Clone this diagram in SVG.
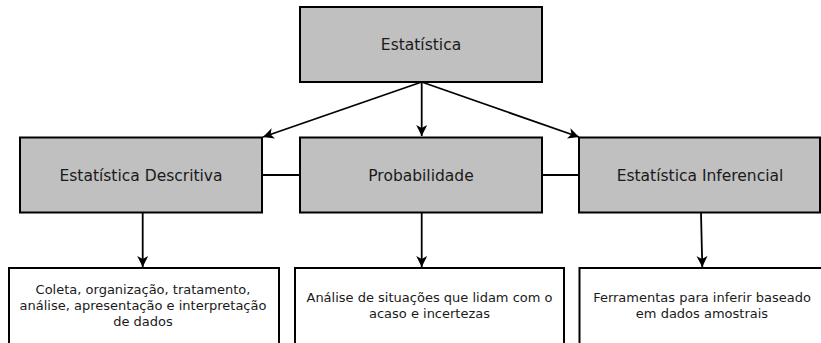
<svg xmlns="http://www.w3.org/2000/svg" width="821" height="343" viewBox="0 0 821 343">
<defs>
<marker id="arr" markerUnits="userSpaceOnUse" markerWidth="12" markerHeight="12" refX="11" refY="6" orient="auto">
<path d="M0,0.5 L11,6 L0,11.5 L3,6 z" fill="#000"/>
</marker>
<style>
.main{fill:#c0c0c0;stroke:#000;stroke-width:2}
.desc{fill:#fff;stroke:#000;stroke-width:2}
.t1{font-family:"DejaVu Sans",sans-serif;font-size:15.5px;fill:#1a1a1a;text-anchor:middle}
.t2{font-family:"DejaVu Sans",sans-serif;font-size:13px;fill:#1a1a1a;text-anchor:middle}
.c{stroke:#000;stroke-width:1.8;fill:none}
</style>
</defs>
<rect width="821" height="343" fill="#fff"/>
<g id="connectors">
<line class="c" x1="421.7" y1="82" x2="263" y2="137" marker-end="url(#arr)"/>
<line class="c" x1="421.7" y1="82" x2="421.7" y2="136" marker-end="url(#arr)"/>
<line class="c" x1="421.7" y1="82" x2="579" y2="137" marker-end="url(#arr)"/>
<line class="c" x1="262" y1="175" x2="300" y2="175"/>
<line class="c" x1="542" y1="175" x2="579" y2="175"/>
<line class="c" x1="142.7" y1="213" x2="142.7" y2="267" marker-end="url(#arr)"/>
<line class="c" x1="421.7" y1="213" x2="421.7" y2="267" marker-end="url(#arr)"/>
<line class="c" x1="701" y1="213" x2="702.3" y2="267" marker-end="url(#arr)"/>
</g>
<g id="estatistica">
<rect class="main" x="300" y="7" width="242" height="75"/>
<text class="t1" x="421" y="49.5">Estatística</text>
</g>
<g id="descritiva">
<rect class="main" x="20" y="137.5" width="242" height="75"/>
<text class="t1" x="141" y="180.5">Estatística Descritiva</text>
</g>
<g id="probabilidade">
<rect class="main" x="300" y="137.5" width="242" height="75"/>
<text class="t1" x="421" y="180.5">Probabilidade</text>
</g>
<g id="inferencial">
<rect class="main" x="579" y="137.5" width="241" height="75"/>
<text class="t1" x="700" y="180.5">Estatística Inferencial</text>
</g>
<g id="desc-descritiva">
<rect class="desc" x="9" y="268" width="270" height="90"/>
<text class="t2" x="143" y="294">Coleta, organização, tratamento,</text>
<text class="t2" x="143" y="310">análise, apresentação e interpretação</text>
<text class="t2" x="143" y="326">de dados</text>
</g>
<g id="desc-probabilidade">
<rect class="desc" x="295" y="268" width="269" height="90"/>
<text class="t2" x="429.5" y="302">Análise de situações que lidam com o</text>
<text class="t2" x="429.5" y="318">acaso e incertezas</text>
</g>
<g id="desc-inferencial">
<rect class="desc" x="579.5" y="268" width="250" height="90"/>
<text class="t2" x="702" y="302">Ferramentas para inferir baseado</text>
<text class="t2" x="702" y="318">em dados amostrais</text>
</g>
</svg>
